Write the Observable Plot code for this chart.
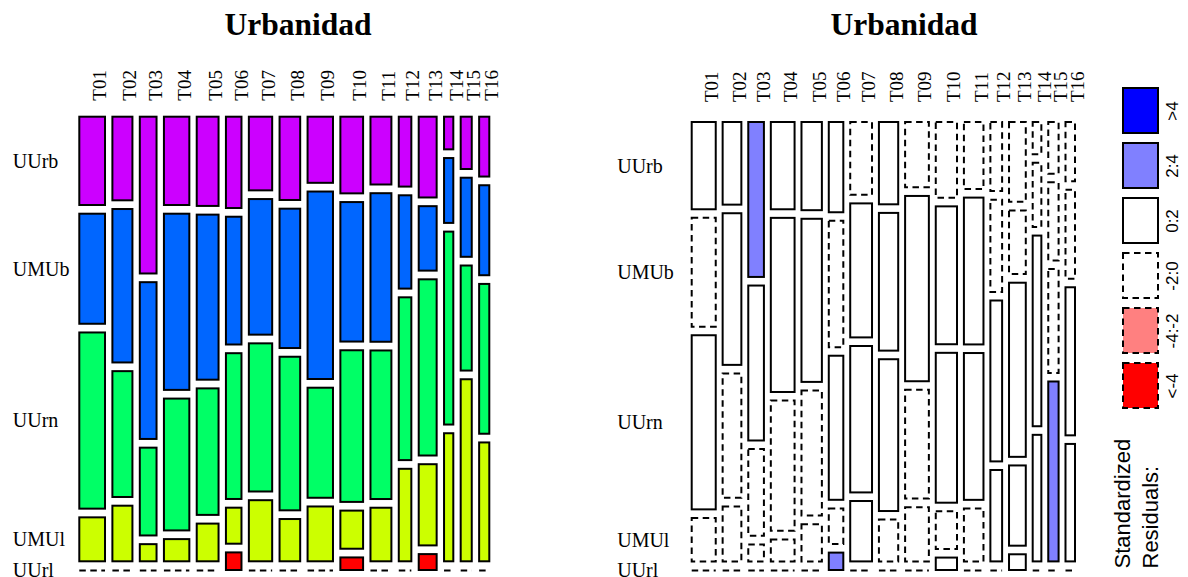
<!DOCTYPE html>
<html>
<head>
<meta charset="utf-8">
<script src="https://cdn.jsdelivr.net/npm/d3@7"></script>
<script src="https://cdn.jsdelivr.net/npm/@observablehq/plot@0.6"></script>
<style>
  body { margin: 0; background: #fff; }
  #wrap { position: relative; width: 1188px; height: 577px; overflow: hidden; background: #fff; }
  .title { position: absolute; top: 9px; font: bold 31.5px "Liberation Serif", serif; line-height: 32px; transform: translateX(-50%); white-space: nowrap; color: #000; }
  .panel { position: absolute; top: 0; }
</style>
</head>
<body>
<div id="wrap">
  <div class="title" style="left:298px">Urbanidad</div>
  <div class="title" style="left:904px">Urbanidad</div>
  <div class="panel" id="left" style="left:0"></div>
  <div class="panel" id="right" style="left:600px"></div>
  <div class="panel" id="legend" style="left:1100px"></div>
</div>
<script>
// ---- data ----
const tipos = ["T01","T02","T03","T04","T05","T06","T07","T08","T09","T10","T11","T12","T13","T14","T15","T16"];
const categorias = ["UUrb","UMUb","UUrn","UMUl","UUrl"];
// share of cases per tipo (column widths, %)
const anchoTipo = [8.6, 6.7, 5.6, 8.5, 7.3, 5.2, 7.8, 6.9, 8.5, 7.6, 7.0, 4.2, 6.0, 3.1, 3.7, 3.4];
// within-tipo percentage of each urbanidad category
const pctUUrb = [21.1, 20.0, 37.5, 21.1, 21.3, 21.8, 17.6, 19.9, 15.8, 18.3, 16.2, 16.7, 19.3, 7.8, 12.5, 14.3];
const pctUMUb = [26.3, 36.7, 37.5, 42.1, 39.4, 30.5, 32.4, 33.3, 44.8, 33.3, 35.5, 22.3, 15.4, 15.5, 18.9, 21.5];
const pctUUrn = [42.1, 30.1, 21.0, 31.5, 30.2, 34.8, 35.4, 36.7, 26.3, 36.2, 35.5, 38.9, 42.1, 46.1, 25.1, 35.8];
const pctUMUl = [10.5, 13.3, 4.1, 5.3, 9.0, 8.6, 14.6, 10.1, 13.1, 9.1, 12.8, 22.1, 19.4, 30.6, 43.5, 28.4];
const pctUUrl = [0, 0, 0, 0, 0, 4.2, 0, 0, 0, 3.0, 0, 0, 3.8, 0, 0, 0];
// standardized residual class of each cell
const resUUrb = ["0:2","0:2","2:4","0:2","0:2","0:2","-2:0","0:2","-2:0","-2:0","-2:0","-2:0","-2:0","-2:0","-2:0","-2:0"];
const resUMUb = ["-2:0","0:2","0:2","0:2","0:2","-2:0","0:2","0:2","0:2","0:2","0:2","-2:0","-2:0","-2:0","-2:0","-2:0"];
const resUUrn = ["0:2","-2:0","-2:0","-2:0","-2:0","0:2","0:2","0:2","-2:0","0:2","0:2","0:2","0:2","0:2","-2:0","0:2"];
const resUMUl = ["-2:0","-2:0","-2:0","-2:0","-2:0","-2:0","0:2","-2:0","-2:0","-2:0","-2:0","0:2","0:2","0:2","2:4","0:2"];
const resUUrl = ["-2:0","-2:0","-2:0","-2:0","-2:0","2:4","-2:0","-2:0","-2:0","0:2","-2:0","-2:0","0:2","-2:0","-2:0","-2:0"];
const coloresCat = ["#CC00FF","#0066FF","#00FF66","#CCFF00","#FF0000"];
const clasesRes = [">4","2:4","0:2","-2:0","-4:-2","<-4"];
const coloresRes = ["#0000FF","#8080FF","#FFFFFF","#FFFFFF","#FF8080","#FF0000"];
const negativas = ["-2:0","-4:-2","<-4"];

// ---- mosaic layout (derived from the data) ----
const GAP_X = 2.47, GAP_Y = 2.08;
const series = [
  {cat: "UUrb", pct: pctUUrb, res: resUUrb},
  {cat: "UMUb", pct: pctUMUb, res: resUMUb},
  {cat: "UUrn", pct: pctUUrn, res: resUUrn},
  {cat: "UMUl", pct: pctUMUl, res: resUMUl},
  {cat: "UUrl", pct: pctUUrl, res: resUUrl}
];
const cells = [];
const cols = [];
let xc = 0;
tipos.forEach((t, i) => {
  const w = anchoTipo[i];
  const tot = d3.sum(series, s => s.pct[i]);
  let yc = 0;
  series.forEach((s, j) => {
    const h = s.pct[i] / tot * 100;
    cells.push({tipo: t, cat: s.cat, res: s.res[i], col: i, x1: xc, x2: xc + w, y1: yc, y2: yc + h, zero: h === 0});
    yc += h + GAP_Y;
  });
  cols.push({tipo: t, xm: xc + w / 2});
  xc += w + GAP_X;
});
const XMAX = xc - GAP_X;
const YMAX = 100 + (categorias.length - 1) * GAP_Y;
const rowLabels = cells.filter(d => d.col === 0).map(d => ({cat: d.cat, ym: (d.y1 + d.y2) / 2}));
const dash = "6.5,4.5";
const SERIF = "'Liberation Serif', 'Times New Roman', serif";
const SANS = "'Liberation Sans', Arial, sans-serif";

function panel({width, marginLeft, marginRight, marginTop, labelDx, labelDy, residual}) {
  const nz = cells.filter(d => !d.zero);
  const z = cells.filter(d => d.zero);
  const rectMarks = residual
    ? [
        Plot.rect(nz.filter(d => !negativas.includes(d.res)), {x1: "x1", x2: "x2", y1: "y1", y2: "y2", fill: "res", stroke: "black", strokeWidth: 2}),
        Plot.rect(nz.filter(d => negativas.includes(d.res)), {x1: "x1", x2: "x2", y1: "y1", y2: "y2", fill: "res", stroke: "black", strokeWidth: 2, strokeDasharray: dash}),
        Plot.ruleY(z, {y: "y1", x1: "x1", x2: "x2", stroke: "black", strokeWidth: 2, strokeDasharray: dash})
      ]
    : [
        Plot.rect(nz, {x1: "x1", x2: "x2", y1: "y1", y2: "y2", fill: "cat", stroke: "black", strokeWidth: 2}),
        Plot.ruleY(z, {y: "y1", x1: "x1", x2: "x2", stroke: "black", strokeWidth: 2, strokeDasharray: dash})
      ];
  return Plot.plot({
    width, height: 577,
    marginLeft, marginRight, marginTop, marginBottom: 7,
    x: {domain: [0, XMAX], axis: null},
    y: {domain: [0, YMAX], reverse: true, axis: null},
    color: residual ? {domain: clasesRes, range: coloresRes} : {domain: categorias, range: coloresCat},
    style: {fontFamily: SERIF, fontSize: "19px", background: "transparent", color: "black", overflow: "visible"},
    marks: [
      ...rectMarks,
      Plot.text(cols, {x: "xm", text: "tipo", frameAnchor: "top", rotate: -90, textAnchor: "start", dy: labelDy, fontSize: 19, fontFamily: SERIF, fill: "black"}),
      Plot.text(rowLabels, {y: "ym", text: "cat", frameAnchor: "left", textAnchor: "start", dx: labelDx, fontSize: 20, fontFamily: SERIF, fill: "black"})
    ]
  });
}

document.getElementById("left").append(panel({width: 600, marginLeft: 79.3, marginRight: 110.7, marginTop: 116.7, labelDx: -67, labelDy: -16.5, residual: false}));
document.getElementById("right").append(panel({width: 500, marginLeft: 91.7, marginRight: 25, marginTop: 122, labelDx: -75, labelDy: -20.5, residual: true}));

const legend = Plot.plot({
  width: 88, height: 577,
  marginLeft: 0, marginRight: 0, marginTop: 0, marginBottom: 0,
  x: {type: "band", domain: ["caja"], range: [22.7, 58.3], padding: 0, axis: null},
  y: {type: "band", domain: clasesRes, range: [82.5, 412.5], paddingInner: 0.19, paddingOuter: 0.095, axis: null},
  color: {domain: clasesRes, range: coloresRes},
  style: {fontFamily: SANS, fontSize: "17px", background: "transparent", color: "black", overflow: "visible"},
  marks: [
    Plot.cell(clasesRes.filter(c => !negativas.includes(c)), {x: () => "caja", y: d => d, fill: d => d, stroke: "black", strokeWidth: 2, inset: 0}),
    Plot.cell(clasesRes.filter(c => negativas.includes(c)), {x: () => "caja", y: d => d, fill: d => d, stroke: "black", strokeWidth: 2, strokeDasharray: dash, inset: 0}),
    Plot.text(clasesRes, {x: () => "caja", y: d => d, text: d => d, rotate: -90, dx: 31.5, fontSize: 17, fontFamily: SANS, fill: "black"}),
    Plot.text(["Standardized\nResiduals:"], {frameAnchor: "bottom-left", rotate: -90, textAnchor: "start", lineAnchor: "top", lineHeight: 1.29, dx: 9, dy: -9, fontSize: 22, fontFamily: SANS, fill: "black"})
  ]
});
document.getElementById("legend").append(legend);
</script>
</body>
</html>
